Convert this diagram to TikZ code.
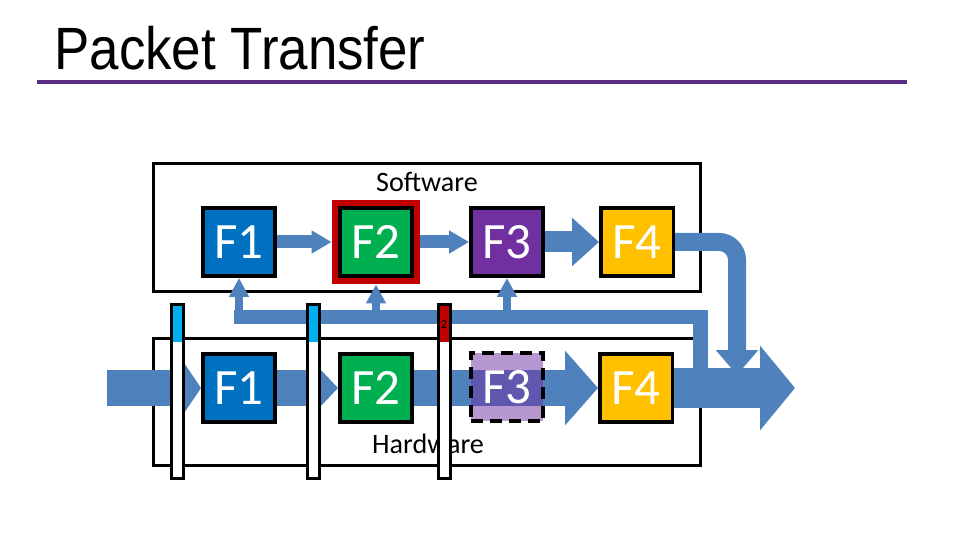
\documentclass[tikz,border=0pt]{standalone}
\usepackage{fontspec}
\setmainfont{Carlito}
\newfontfamily\titlefont{Liberation Sans}
\usetikzlibrary{arrows.meta, fit, positioning}

\definecolor{pktblue}{HTML}{4F81BD}
\definecolor{fonecol}{HTML}{0070C0}
\definecolor{ftwocol}{HTML}{00B050}
\definecolor{fthreecol}{HTML}{7030A0}
\definecolor{ffourcol}{HTML}{FFC000}
\definecolor{framered}{HTML}{C00000}
\definecolor{barcyan}{HTML}{00B0F0}
\definecolor{rulepurple}{HTML}{5B2C86}

\tikzset{
  fbox/.style={draw=black, line width=0.07cm, minimum width=1.45cm,
    minimum height=1.37cm, inner sep=0pt, text=white,
    font=\fontsize{29}{34}\selectfont},
  layer/.style={draw=black, line width=0.06cm, minimum width=10.94cm,
    minimum height=2.56cm, inner sep=0pt},
  layertext/.style={inner sep=0pt, font=\fontsize{16}{19}\selectfont},
  redframe/.style={draw=framered, line width=0.12cm, inner sep=0.07cm},
  swarrow/.style={pktblue, line width=0.26cm, -{Triangle[width=0.44cm, length=0.4cm]}},
  swbig/.style={pktblue, line width=0.42cm, -{Triangle[width=0.94cm, length=0.54cm]}},
  droparrow/.style={pktblue, line width=0.36cm, -{Triangle[width=0.82cm, length=0.5cm]}},
  hwin/.style={pktblue, line width=0.74cm, -{Triangle[width=1.52cm, length=0.52cm]}},
  hwarrow/.style={pktblue, line width=0.74cm, -{Triangle[width=0.74cm, length=0.36cm]}},
  hwbig/.style={pktblue, line width=0.74cm, -{Triangle[width=1.46cm, length=0.66cm]}},
  hwout/.style={pktblue, line width=0.8cm, -{Triangle[width=1.66cm, length=0.7cm]}},
  bus/.style={pktblue, line width=0.3cm, line join=miter},
  uparrow/.style={pktblue, line width=0.17cm, -{Triangle[width=0.38cm, length=0.38cm]}}
}

\begin{document}
\begin{tikzpicture}[x=0.02cm, y=-0.02cm]
\useasboundingbox (0,0) rectangle (960,540);

% title and rule
\node[anchor=base west, inner sep=0pt, font=\titlefont\fontsize{34}{40}\selectfont] (title) at (54,70) {\scalebox{0.885}[1]{Packet Transfer}};
\draw[rulepurple, line width=0.08cm] (37,82) -- (907,82);

% the two layers
\node[layer] (sw) at (427,227.5) {};
\node[layer, minimum height=2.54cm] (hw) at (427,402) {};
\node[layertext] (swtext) at (427,182) {Software};
\node[layertext] (hwtext) at (428,444) {Hardware};

% functions
\node[fbox, fill=fonecol] (s1) at (239,242) {F1};
\node[fbox, fill=ftwocol] (s2) at (376,242) {F2};
\node[fbox, fill=fthreecol] (s3) at (507,242) {F3};
\node[fbox, fill=ffourcol] (s4) at (637,242) {F4};
\node[redframe, fit=(s2)] (s2f) {};
\node[fbox, fill=fonecol] (h1) at (239,388) {F1};
\node[fbox, fill=ftwocol] (h2) at (376,388) {F2};
\node[fbox, fill=ffourcol] (h4) at (636,388) {F4};

\coordinate (hin) at (107,388);
\coordinate (hout) at (795,388);
\coordinate (drop) at (737,375);
\coordinate (tap) at (700,372);
\coordinate (busend) at (234,317);

% software path
\draw[swarrow] (s1) -- (s2f);
\draw[swarrow] (s2f) -- (s3);
\draw[swbig] (s3) -- (s4);
\draw[droparrow, rounded corners=0.36cm] (s4.east) -| (drop);

% hardware path
\draw[hwin] (hin) -- (h1);
\draw[hwarrow] (h1) -- (h2);
\draw[hwbig] (h2) -- (h4);
\draw[hwout] (h4) -- (hout);

% feedback bus
\draw[bus] (tap) |- (busend);
\foreach \f in {s1, s2f, s3}
  \draw[uparrow] ([yshift=0.1cm]\f |- busend) -- (\f);

% see-through F3
\node[fbox, fill=fthreecol, fill opacity=0.5, text opacity=1,
  dash pattern=on 0.24cm off 0.14cm] (h3) at (507,387) {F3};

% bars
\foreach \bx/\bc in {177/barcyan, 313/barcyan, 444/framered} {
  \fill[white] (\bx-6,305) rectangle (\bx+6,478);
  \fill[\bc] (\bx-6,305) rectangle (\bx+6,342);
  \draw[line width=0.06cm] (\bx-6,305) rectangle (\bx+6,478);
}
\node[inner sep=0pt, font=\fontsize{7}{7}\selectfont] (bartag) at (444,325) {2};
\end{tikzpicture}
\end{document}
